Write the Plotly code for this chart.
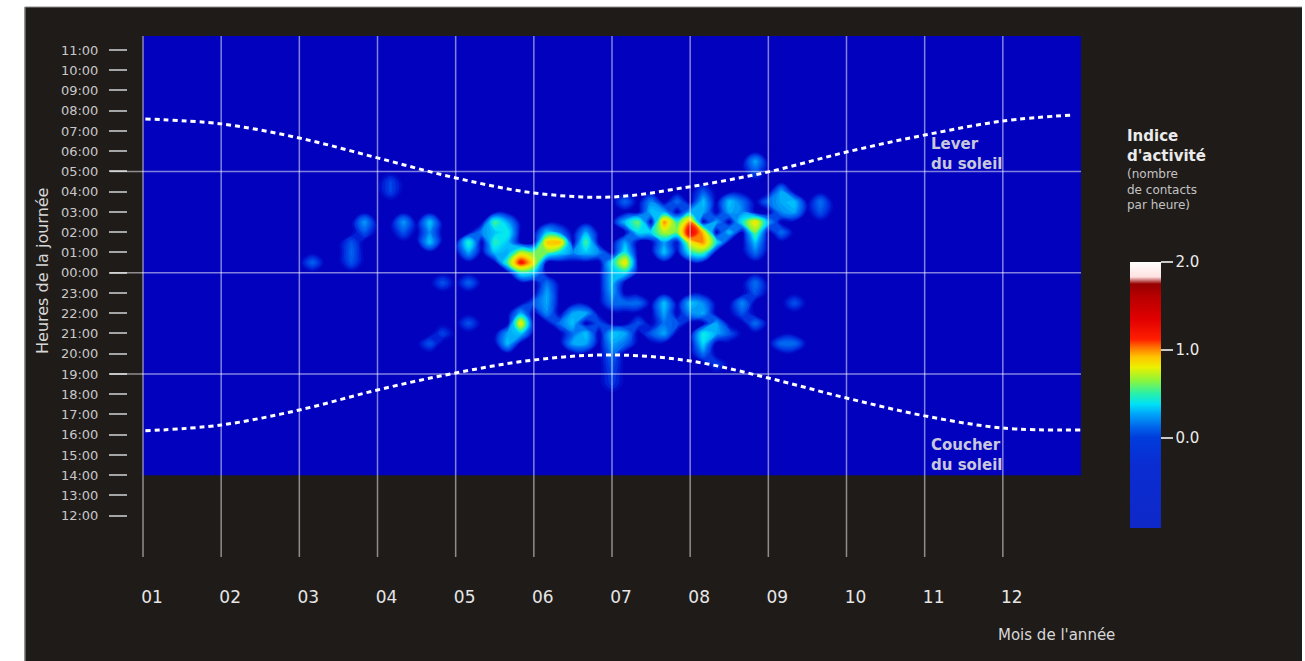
import plotly.graph_objects as go

# ---------------- data ----------------
month_ticks = [1, 2, 3, 4, 5, 6, 7, 8, 9, 10, 11, 12]
month_labels = ["01", "02", "03", "04", "05", "06", "07", "08", "09", "10", "11", "12"]

# hour-of-day ticks, from bottom (12:00) to top (11:00)
hour_ticks = [12, 13, 14, 15, 16, 17, 18, 19, 20, 21, 22, 23, 0, 1, 2, 3, 4, 5, 6, 7, 8, 9, 10, 11]
hour_labels = ["%02d:00" % h for h in hour_ticks]
grid_line_hours = [5, 0, 19]

# sunrise / sunset (decimal hour of day) along the year
sunrise_months = [1.03, 2.0, 3.0, 4.0, 5.0, 6.0, 7.0, 8.0, 9.0, 10.0, 11.0, 12.0, 12.9]
sunrise_hours = [7.59, 7.35, 6.65, 5.67, 4.68, 3.94, 3.74, 4.25, 4.98, 5.96, 6.80, 7.49, 7.79]
sunset_months = [1.03, 2.0, 3.0, 4.0, 5.0, 6.0, 7.0, 8.0, 9.0, 10.0, 11.0, 12.0, 13.0]
sunset_hours = [16.19, 16.48, 17.22, 18.21, 19.05, 19.69, 19.94, 19.64, 18.80, 17.81, 16.93, 16.33, 16.23]

# activity index, sampled spots: month position, hour of day, contacts per hour
act_month = [
    4.25, 4.25, 3.875, 3.875, 4.375, 4.375, 4.625, 4.625, 4.75, 4.75, 3.75, 3.75, 3.75, 3.25, 4.875, 4.75, 4.875,
    5.25, 5.25, 5.25, 5.125, 5.5, 5.5, 5.5, 5.5, 5.75, 5.75, 5.75, 5.75,
    5.875, 5.875, 5.875, 5.75, 6.0, 6.125, 6.125, 6.0, 6.3, 6.375, 6.3, 6.125, 6.5,
    6.125, 6.125, 6.125, 6.125, 6.0, 5.875, 5.875, 5.875, 5.75, 5.75, 5.625,
    6.5, 6.5, 6.5, 6.5, 6.75, 6.75, 6.75, 6.625, 6.75, 6.75, 6.75, 6.625,
    7.125, 7.125, 7.125, 7.0, 7.0, 7.0, 7.0, 7.0, 7.0, 7.0, 7.0, 7.0, 7.0, 7.0, 7.125, 7.25, 7.25, 7.25,
    7.375, 7.375, 7.375, 7.5, 7.5, 7.625, 7.625, 7.625, 7.625, 7.625, 7.75, 7.75, 7.75, 7.75,
    8.0, 8.0, 8.0, 8.125, 8.125, 8.125, 7.875, 7.875, 8.0, 8.25, 8.25, 8.0, 8.0, 8.125, 8.125, 8.125,
    8.25, 8.25, 8.25, 8.25, 8.25, 8.375, 8.375, 8.375, 8.375, 8.5, 8.5, 8.625, 8.625,
    8.8, 8.8, 8.9, 8.9, 8.9, 8.9, 8.9, 8.9, 8.9, 8.9, 8.75, 8.625,
    9.125, 9.125, 9.125, 9.25, 9.375, 9.375, 9.375, 9.25, 9.375, 9.75, 9.75, 9.125,
    6.0, 6.25, 6.375, 6.875, 7.375, 7.5, 7.875, 8.5, 6.875, 6.375, 5.375, 5.625,
    7.75, 7.5, 7.25, 7.25, 8.5, 8.625, 9.0, 9.0, 8.0, 7.875, 8.375,
]
act_hour = [
    4.5, 4.0, 2.5, 2.0, 2.5, 2.0, 2.5, 2.0, 1.5, 2.0, 1.5, 1.0, 0.5, 0.5, 23.5, 20.5, 21.0,
    1.5, 1.0, 23.5, 21.5, 2.5, 2.0, 1.5, 1.0, 2.0, 2.5, 1.5, 1.0,
    0.5, 1.0, 0.0, 0.5, 0.5, 1.5, 1.0, 1.0, 1.5, 1.5, 1.0, 2.0, 1.0,
    23.0, 22.5, 22.0, 23.5, 0.0, 21.5, 21.0, 22.0, 21.0, 20.5, 20.5,
    21.5, 22.0, 20.5, 21.0, 1.5, 1.0, 2.0, 1.5, 22.0, 21.0, 20.5, 21.0,
    0.5, 1.0, 0.0, 0.5, 0.0, 23.5, 23.0, 22.5, 21.0, 20.5, 20.0, 19.5, 19.0, 18.5, 22.5, 21.0, 20.5, 3.5,
    2.5, 2.0, 22.5, 3.0, 3.5, 2.5, 2.0, 3.0, 1.0, 1.5, 22.5, 22.0, 21.0, 21.5,
    2.0, 2.5, 1.5, 1.5, 2.0, 1.0, 2.0, 2.5, 1.0, 1.5, 1.0, 22.5, 22.0, 21.0, 20.5, 20.0,
    22.0, 22.5, 3.5, 3.0, 4.0, 1.5, 21.5, 21.0, 19.5, 3.5, 3.0, 22.5, 22.0,
    2.5, 2.0, 2.0, 1.5, 1.0, 5.5, 5.0, 23.5, 23.0, 21.5, 3.0, 3.5,
    4.0, 3.5, 3.0, 2.0, 3.5, 3.0, 22.5, 20.5, 20.5, 3.5, 3.0, 20.5,
    22.5, 22.5, 21.5, 21.5, 21.5, 21.0, 21.5, 21.0, 1.0, 2.0, 2.0, 1.5,
    2.5, 2.0, 1.5, 2.5, 2.0, 2.5, 2.5, 3.5, 3.0, 3.5, 2.5,
]
act_value = [
    0.12, 0.12, 0.28, 0.15, 0.28, 0.15, 0.35, 0.2, 0.35, 0.25, 0.15, 0.18, 0.15, 0.18, 0.15, 0.15, 0.12,
    0.5, 0.3, 0.18, 0.15, 0.55, 0.35, 0.5, 0.35, 0.45, 0.3, 0.35, 0.3,
    1.2, 0.7, 0.45, 0.55, 0.8, 0.9, 0.6, 0.6, 0.95, 0.6, 0.4, 0.35, 0.25,
    0.3, 0.3, 0.25, 0.2, 0.35, 0.85, 0.35, 0.3, 0.3, 0.35, 0.2,
    0.35, 0.3, 0.3, 0.2, 0.55, 0.35, 0.3, 0.3, 0.3, 0.35, 0.3, 0.25,
    0.85, 0.45, 0.4, 0.4, 0.35, 0.35, 0.3, 0.2, 0.35, 0.3, 0.2, 0.15, 0.12, 0.1, 0.2, 0.3, 0.2, 0.18,
    0.6, 0.4, 0.2, 0.35, 0.25, 1.0, 0.7, 0.3, 0.35, 0.3, 0.35, 0.3, 0.3, 0.2,
    1.3, 1.0, 0.8, 1.0, 0.9, 0.55, 0.6, 0.5, 0.45, 0.5, 0.35, 0.35, 0.25, 0.45, 0.4, 0.2,
    0.3, 0.25, 0.35, 0.3, 0.15, 0.45, 0.3, 0.3, 0.12, 0.35, 0.3, 0.25, 0.15,
    0.85, 0.6, 0.4, 0.35, 0.2, 0.3, 0.15, 0.2, 0.15, 0.2, 0.25, 0.2,
    0.3, 0.3, 0.25, 0.2, 0.35, 0.3, 0.15, 0.2, 0.2, 0.2, 0.15, 0.15,
    0.15, 0.15, 0.2, 0.15, 0.15, 0.15, 0.15, 0.15, 0.25, 0.2, 0.25, 0.35,
    0.5, 0.4, 0.3, 0.35, 0.35, 0.45, 0.3, 0.2, 0.3, 0.2, 0.3,
]

# sampling grid of the activity surface
grid_months = [3.0 + i / 6 for i in range(43)]              # 3.0 .. 10.0
grid_hours = [18.0 + 0.5 * i for i in range(25)]            # 18:00 .. 06:00 (wraps past midnight)

# colour stops (activity value, colour)
heat_stop_values = [0.0, 0.05, 0.12, 0.2, 0.3, 0.4, 0.5, 0.62, 0.78, 0.9, 1.0, 1.1, 1.35, 1.6, 1.75, 1.85, 2.0]
heat_stop_colors = ["rgb(2,2,190)", "rgb(0,35,218)", "rgb(0,80,235)", "rgb(0,120,245)", "rgb(0,180,252)",
                    "rgb(0,230,245)", "rgb(50,240,165)", "rgb(140,245,60)", "rgb(235,240,0)", "rgb(255,195,0)",
                    "rgb(255,120,0)", "rgb(255,30,0)", "rgb(225,0,0)", "rgb(185,0,0)", "rgb(150,0,0)",
                    "rgb(255,225,225)", "rgb(255,255,255)"]
bar_stop_values = [-1.03, -0.3, 0.0, 0.12, 0.28, 0.38, 0.5, 0.65, 0.8, 0.92, 1.02, 1.12, 1.35, 1.6, 1.75, 1.83, 2.0]
bar_stop_colors = ["rgb(15,40,200)", "rgb(10,45,210)", "rgb(0,60,220)", "rgb(0,100,235)", "rgb(0,170,250)",
                   "rgb(0,225,245)", "rgb(40,240,170)", "rgb(140,245,60)", "rgb(235,240,0)", "rgb(255,195,0)",
                   "rgb(255,120,0)", "rgb(255,30,0)", "rgb(225,0,0)", "rgb(185,0,0)", "rgb(150,0,0)",
                   "rgb(255,225,225)", "rgb(255,255,255)"]
bar_ticks = [0, 1, 2]
bar_tick_labels = ["0.0", "1.0", "2.0"]

# ---------------- styling ----------------
DARK = "rgb(31,27,25)"
BLUE = "rgb(2,2,190)"
GRID = "rgba(255,255,255,0.5)"
FONT = "DejaVu Sans"
Y_TOP = 23.69
Y_BOTTOM = -2.04
PANEL_BOTTOM_HOUR = 14


def to_u(h):
    """hour of day -> axis position (hours since noon)"""
    return (h - 12) % 24


def scale(vals, cols):
    lo, hi = vals[0], vals[-1]
    return [[(v - lo) / (hi - lo), c] for v, c in zip(vals, cols)]


def nearest(arr, v):
    return min(range(len(arr)), key=lambda k: abs(arr[k] - v))


# place the sampled spots in the nearest grid cell
grid_u = [to_u(h) for h in grid_hours]
z = [[0.0] * len(grid_months) for _ in grid_u]
for m, h, v in zip(act_month, act_hour, act_value):
    i = nearest(grid_u, to_u(h))
    j = nearest(grid_months, m)
    z[i][j] = max(z[i][j], v)

fig = go.Figure()

# blue panel
fig.add_shape(type="rect", xref="x", yref="y", x0=month_ticks[0], x1=13,
              y0=to_u(PANEL_BOTTOM_HOUR), y1=Y_TOP, fillcolor=BLUE, line_width=0, layer="below")

# activity surface
fig.add_trace(go.Contour(
    x=grid_months, y=grid_u, z=z,
    zmin=heat_stop_values[0], zmax=heat_stop_values[-1],
    colorscale=scale(heat_stop_values, heat_stop_colors),
    contours=dict(coloring="fill", start=0.02, end=2.0, size=0.03, showlines=False),
    line=dict(width=0, smoothing=1.3),
    showscale=False, hoverinfo="skip"))

# sunrise / sunset curves
for mx, hy in [(sunrise_months, sunrise_hours), (sunset_months, sunset_hours)]:
    fig.add_trace(go.Scatter(
        x=mx, y=[to_u(h) for h in hy], mode="lines",
        line=dict(color="white", width=3, dash="5px,4px", shape="spline", smoothing=1.0),
        hoverinfo="skip"))

# colour bar (invisible carrier trace)
fig.add_trace(go.Scatter(
    x=[2, 2], y=[-1.5, -1.5], mode="markers", hoverinfo="skip",
    marker=dict(size=1, opacity=0, color=[bar_stop_values[0], bar_stop_values[-1]],
                cmin=bar_stop_values[0], cmax=bar_stop_values[-1],
                colorscale=scale(bar_stop_values, bar_stop_colors), showscale=True,
                colorbar=dict(x=1.0514, xanchor="left", xpad=0, ypad=0,
                              y=0.311, yanchor="middle", len=266, lenmode="pixels",
                              thickness=31, outlinewidth=0,
                              tickvals=bar_ticks, ticktext=bar_tick_labels,
                              ticks="outside", ticklen=12, tickwidth=1.5,
                              tickcolor="rgb(200,200,200)",
                              tickfont=dict(family=FONT, size=15, color="rgb(235,235,235)")))))

# grid lines (drawn above the surface)
for m in month_ticks:
    fig.add_shape(type="line", xref="x", yref="paper", x0=m, x1=m, y0=0, y1=1,
                  line=dict(color=GRID, width=1.5), layer="above")
for h in grid_line_hours:
    fig.add_shape(type="line", xref="paper", yref="y", x0=-0.0189, x1=1.0, y0=to_u(h), y1=to_u(h),
                  line=dict(color=GRID, width=1.5), layer="above")

# white frame around the dark card, with its thin grey edge
for (x0, x1, y0, y1) in [(-0.3, -0.1081, -0.4, 1.2), (-0.3, 1.4, 1.0557, 1.2), (1.2319, 1.4, -0.4, 1.2)]:
    fig.add_shape(type="rect", xref="paper", yref="paper", x0=x0, x1=x1, y0=y0, y1=y1,
                  fillcolor="white", line_width=0, layer="below")
fig.add_shape(type="line", xref="paper", yref="paper", x0=-0.1081, x1=-0.1081, y0=-0.4, y1=1.0557,
              line=dict(color="rgb(120,118,116)", width=1.5), layer="below")
fig.add_shape(type="line", xref="paper", yref="paper", x0=-0.1081, x1=1.2319, y0=1.0557, y1=1.0557,
              line=dict(color="rgb(150,148,146)", width=1), layer="below")

annotations = [
    dict(text="Heures de la journée", xref="paper", yref="paper", x=-0.0892, y=0.549,
         xanchor="center", yanchor="middle",
         textangle=-90, showarrow=False, font=dict(family=FONT, size=16, color="rgb(215,215,215)")),
    dict(text="Mois de l'année", xref="paper", yref="paper", x=0.9108, y=-0.1497,
         xanchor="left", yanchor="middle", showarrow=False,
         font=dict(family=FONT, size=15, color="rgb(215,215,215)")),
    dict(text="<b>Lever<br>du soleil</b>", xref="x", yref="y", x=11.06, y=18.90,
         xanchor="left", yanchor="top", align="left", showarrow=False,
         font=dict(family=FONT, size=15, color="rgb(200,200,220)")),
    dict(text="<b>Coucher<br>du soleil</b>", xref="x", yref="y", x=11.06, y=4.04,
         xanchor="left", yanchor="top", align="left", showarrow=False,
         font=dict(family=FONT, size=15, color="rgb(200,200,220)")),
    dict(text="<b>Indice<br>d'activité</b>", xref="paper", yref="paper", x=1.0462, y=0.829,
         xanchor="left", yanchor="top", align="left", showarrow=False,
         font=dict(family=FONT, size=15, color="rgb(235,235,235)")),
    dict(text="(nombre<br>de contacts<br>par heure)", xref="paper", yref="paper", x=1.0462, y=0.752,
         xanchor="left", yanchor="top", align="left", showarrow=False,
         font=dict(family=FONT, size=12, color="rgb(195,195,195)")),
]

fig.update_layout(
    width=1305, height=661,
    margin=dict(l=128, r=224, t=36, b=104, autoexpand=False),
    paper_bgcolor=DARK, plot_bgcolor=DARK, showlegend=False,
    annotations=annotations,
    xaxis=dict(range=[0.808, 13], tickvals=month_ticks, ticktext=month_labels,
               showgrid=False, zeroline=False, showline=False, ticks="",
               tickfont=dict(family=FONT, size=17, color="rgb(230,230,230)"),
               ticklabelshift=9, ticklabelstandoff=28, fixedrange=True),
    yaxis=dict(range=[Y_BOTTOM, Y_TOP], tickvals=[to_u(h) for h in hour_ticks], ticktext=hour_labels,
               showgrid=False, zeroline=False, showline=False,
               ticks="outside", ticklen=18, tickwidth=1.5, tickcolor="rgb(165,165,165)",
               tickfont=dict(family=FONT, size=13, color="rgb(200,200,200)"),
               ticklabelstandoff=8, fixedrange=True),
)

fig.write_html("out.html", config={"displayModeBar": False},
               post_script="document.body.style.margin='0';document.body.style.overflow='hidden';")
